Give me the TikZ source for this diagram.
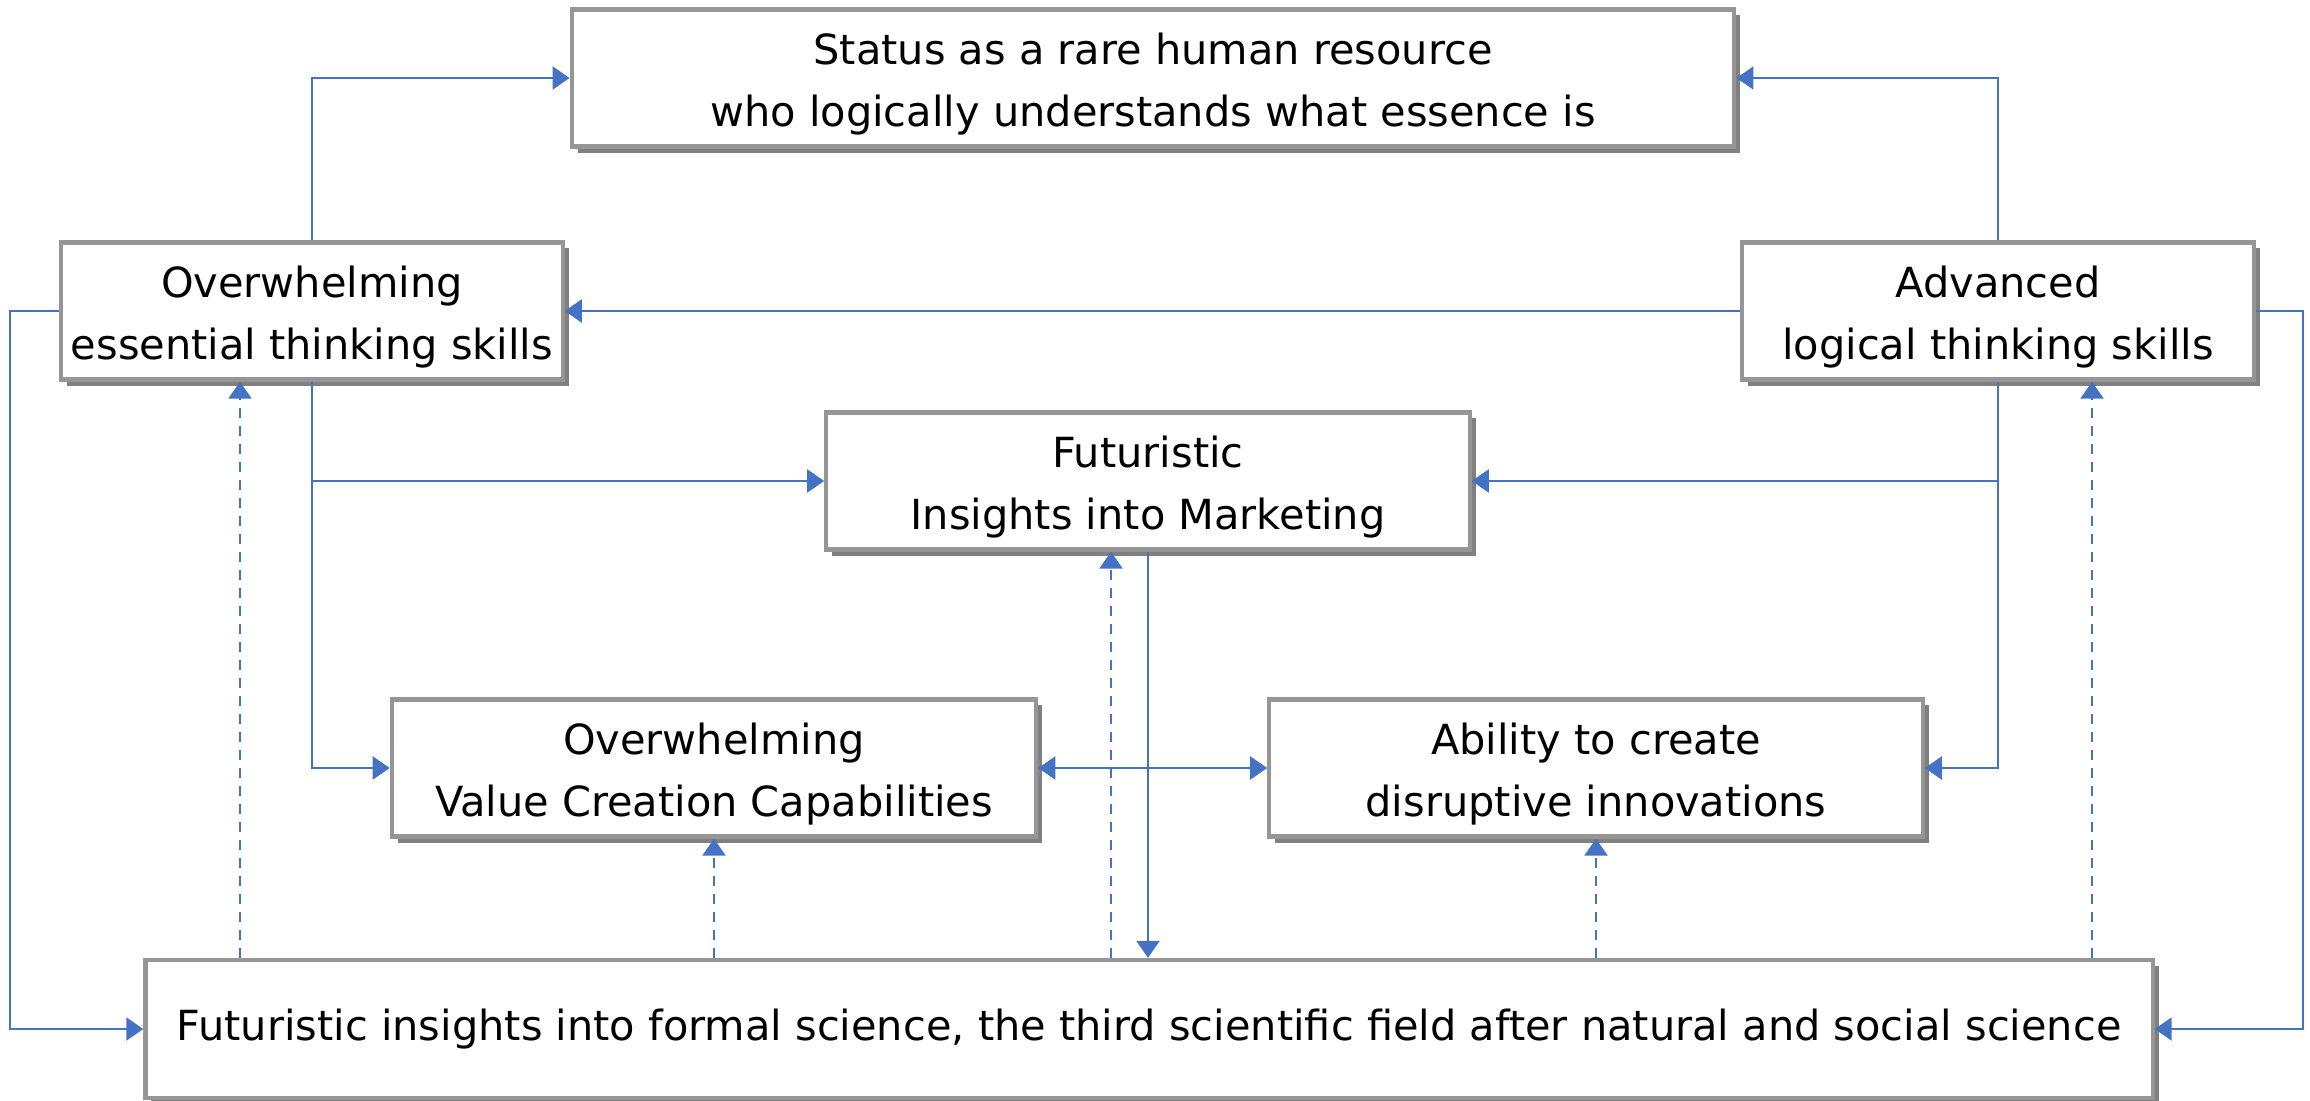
\documentclass[tikz,border=0pt]{standalone}
\usepackage{fontspec}
\setmainfont{DejaVu Sans}
\usepackage{tikz}
\usetikzlibrary{arrows.meta}
\usetikzlibrary{shadows}
\definecolor{linkblue}{RGB}{68,114,196}
\definecolor{boxgray}{RGB}{150,150,150}
\definecolor{shadegray}{RGB}{128,128,128}
\newcommand\topgap{\rule{0pt}{12.6pt}}
\tikzset{
  blueTip/.tip={Triangle[length=0.17cm,width=0.23cm]},
  box/.style={draw=boxgray, line width=1.2pt, fill=white, align=center, inner sep=0pt,
    minimum height=1.37cm, font=\fontsize{11.8}{17.6}\selectfont,
    drop shadow={shadow xshift=0.06cm, shadow yshift=-0.06cm, fill=shadegray, opacity=1}},
  link/.style={linkblue, line width=0.6pt, -blueTip},
  dashlink/.style={link, dash pattern=on 0.1cm off 0.08cm}
}

\begin{document}
\begin{tikzpicture}[x=0.01cm, y=-0.01cm]
    \useasboundingbox (0,0) rectangle (2310,1100);
    \node[box, minimum width=11.62cm] (status) at (1153,78) {\topgap Status as a rare human resource\\who logically understands what essence is};
    \node[box, minimum width=5.01cm] (ess) at (312,311) {\topgap Overwhelming\\essential thinking skills};
    \node[box, minimum width=5.11cm] (adv) at (1998,311) {\topgap Advanced\\logical thinking skills};
    \node[box, minimum width=6.43cm] (mkt) at (1148,481) {\topgap Futuristic\\Insights into Marketing};
    \node[box, minimum width=6.44cm] (val) at (714,768) {\topgap Overwhelming\\Value Creation Capabilities};
    \node[box, minimum width=6.53cm] (dis) at (1596,768) {\topgap Ability to create\\disruptive innovations};
    \node[box, minimum width=20.06cm, minimum height=1.38cm] (form) at (1149,1029) {Futuristic insights into formal science, the third scientific field after natural and social science};
    \coordinate (dA) at (240,0);
    \coordinate (dB) at (1111,0);
    \coordinate (dC) at (2092,0);
    % solid links
    \draw[link] (ess.north) |- (status.west);
    \draw[link] (adv.north) |- (status.east);
    \draw[link] (adv.west) -- (ess.east);
    \draw[link] (ess.west) -- ++(-49,0) |- (form.west);
    \draw[link] (adv.east) -- ++(47,0) |- (form.east);
    \draw[link] (ess.south) |- (val.west);
    \draw[link] (ess.south |- mkt.west) -- (mkt.west);
    \draw[link] (adv.south) |- (dis.east);
    \draw[link] (adv.south |- mkt.east) -- (mkt.east);
    \draw[link, blueTip-blueTip] (val.east) -- (dis.west);
    \draw[link] (mkt.south) -- (mkt.south |- form.north);
    % dashed links
    \draw[dashlink] (form.north -| dA) -- (ess.south -| dA);
    \draw[dashlink] (form.north -| val.south) -- (val.south);
    \draw[dashlink] (form.north -| dB) -- (mkt.south -| dB);
    \draw[dashlink] (form.north -| dis.south) -- (dis.south);
    \draw[dashlink] (form.north -| dC) -- (adv.south -| dC);
\end{tikzpicture}
\end{document}
